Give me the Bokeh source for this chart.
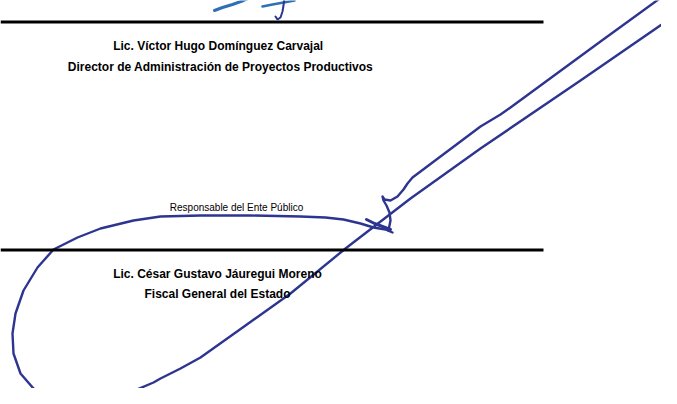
from bokeh.plotting import figure
from bokeh.models import Range1d, ColumnDataSource
from bokeh.core.properties import value
from bokeh.embed import file_html
from bokeh.resources import INLINE

# ---- data (page coordinates, y grows downward) ----
rule_y = [21.5, 249.5]
rule_x0 = [0, 0]
rule_x1 = [543, 543]

name_texts = ["Lic. Víctor Hugo  Domínguez  Carvajal",
              "Director de Administración de Proyectos Productivos",
              "Lic. César Gustavo Jáuregui Moreno",
              "Fiscal General del Estado"]
name_x = [221, 220, 217, 217]
name_y = [45, 66, 273, 293]

small_texts = ["Responsable del Ente Público"]
small_x = [236]
small_y = [207]

# signature strokes
loop_x = [680, 580, 480, 410, 345, 290, 245, 200, 180, 160, 153, 127, 100, 77, 53,
          33, 20, 13, 12, 15, 23, 37, 53, 77, 100, 133, 160, 200,
          250, 300, 325, 343, 360, 373, 385, 392]
loop_y = [11, 80, 148, 198, 248, 293, 325, 357, 368, 378, 382, 393, 400, 402, 398,
          388, 373, 353, 333, 313, 290, 267, 249, 237, 228, 220, 216, 215,
          215, 216, 217, 219, 223, 227, 229, 232]

upper_x = [662, 600, 540, 510, 500, 480, 440, 412, 407, 403, 397, 390, 384, 382,
           383, 386, 389, 390, 388]
upper_y = [-4, 41, 85, 107, 114, 126, 156, 177, 183, 189, 196, 200, 199, 196,
           200, 205, 212, 220, 230]

tick_x = [366, 374, 382, 390]
tick_y = [219, 223, 226, 229]

top_a_x = [214, 222, 232, 243, 252]
top_a_y = [10, 7, 4, 0, -4]

top_b_x = [262, 272, 283, 294]
top_b_y = [6, 4, 2, 0]

top_c_x = [284, 283, 282, 280, 277, 275]
top_c_y = [-3, 5, 11, 17, 19, 16]

# ---- figure ----
W, H = 661, 388
p = figure(width=W, height=H, output_backend="svg", toolbar_location=None,
           x_range=Range1d(0, W), y_range=Range1d(H, 0),
           min_border=0, background_fill_color="white", border_fill_color="white")
p.axis.visible = False
p.grid.visible = False
p.outline_line_color = None

ink = "#2d3590"
p.line(loop_x, loop_y, line_color=ink, line_width=2.4, line_join="round", line_cap="round")
p.line(upper_x, upper_y, line_color=ink, line_width=2.4, line_join="round", line_cap="round")
p.line(tick_x, tick_y, line_color=ink, line_width=3, line_join="round", line_cap="round")
top_ink = "#2f6fb5"
p.line(top_a_x, top_a_y, line_color=top_ink, line_width=3, line_cap="round")
p.line(top_b_x, top_b_y, line_color=top_ink, line_width=2.5, line_cap="round")
p.line(top_c_x, top_c_y, line_color=ink, line_width=2, line_cap="round")

p.segment(x0=rule_x0, y0=rule_y, x1=rule_x1, y1=rule_y, line_color="black", line_width=3)

src = ColumnDataSource(dict(x=name_x, y=name_y, t=name_texts))
p.text(x="x", y="y", text="t", source=src, text_align="center", text_baseline="middle",
       text_font=value("Liberation Sans"), text_font_style="bold",
       text_font_size="12px", text_color="black")

src2 = ColumnDataSource(dict(x=small_x, y=small_y, t=small_texts))
p.text(x="x", y="y", text="t", source=src2, text_align="center", text_baseline="middle",
       text_font=value("Liberation Sans"), text_font_size="10px", text_color="black")

open("out.html", "w").write(file_html(p, INLINE))
